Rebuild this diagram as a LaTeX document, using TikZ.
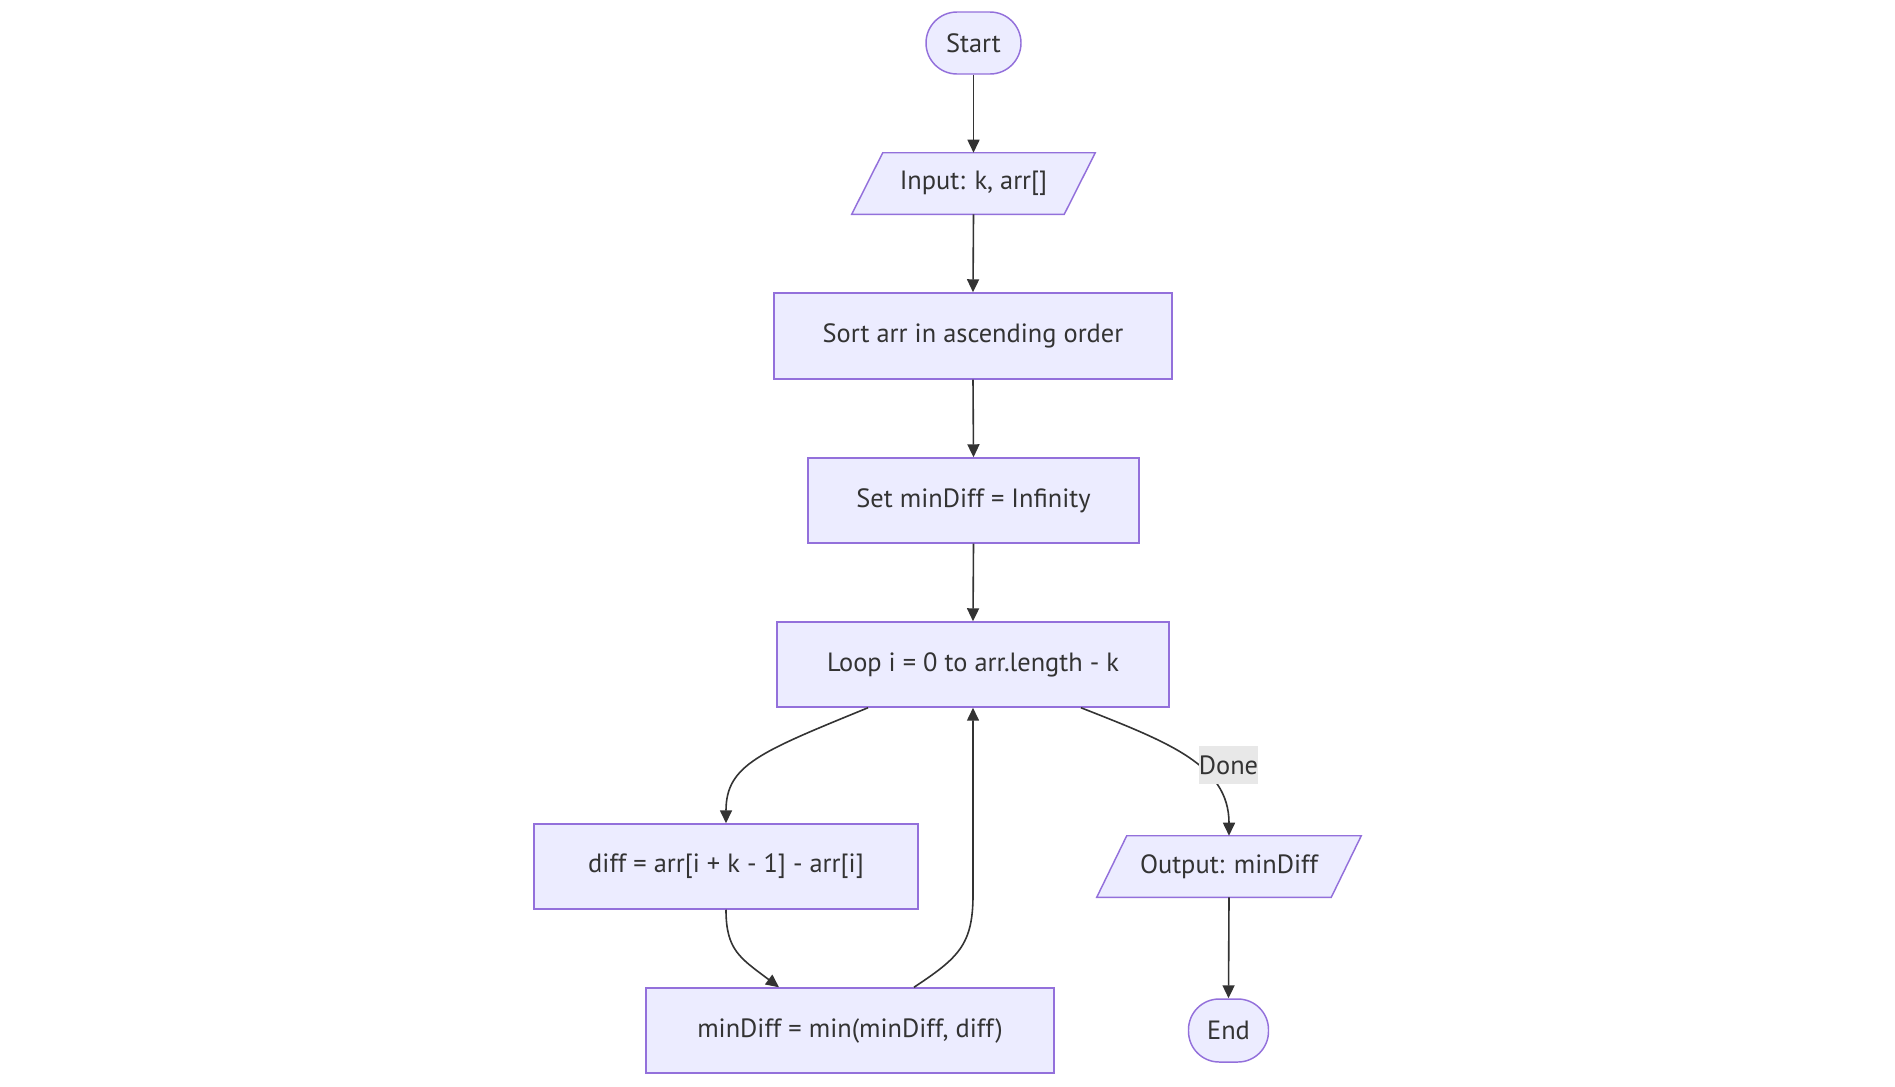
\documentclass[tikz,border=0pt]{standalone}
\usepackage{fontspec}
\setmainfont{PT Sans}
\usetikzlibrary{arrows.meta}
\definecolor{nodefill}{HTML}{ECECFF}
\definecolor{nodeline}{HTML}{9370DB}
\definecolor{ink}{HTML}{333333}
\definecolor{lblbg}{HTML}{E8E8E8}
\tikzset{
  box/.style={draw=nodeline, fill=nodefill, line width=1.1pt, text=ink, font=\fontsize{19.8pt}{23pt}\selectfont, inner sep=0pt, align=center},
  stadium/.style={box},
  ionode/.style={text=ink, font=\fontsize{19.8pt}{23pt}\selectfont, inner sep=0pt},
  iofill/.style={draw=nodeline, fill=nodefill, line width=1.1pt, line join=miter},
  arr/.style={draw=ink, line width=1.2pt, -{Triangle[length=9.75pt,width=9pt]}},
  lbl/.style={fill=lblbg, text=ink, font=\fontsize{19.8pt}{23pt}\selectfont, inner sep=0pt, minimum width=42.75pt, minimum height=28.5pt}
}
\begin{document}
\begin{tikzpicture}[x=0.75pt,y=-0.75pt]
\useasboundingbox (0,0) rectangle (1895,1086);
% nodes
\node[stadium, rounded corners=23.25pt, minimum width=71.25pt, minimum height=46.5pt] (start) at (973.5,43) {Start};
% input parallelogram
\node[ionode, minimum width=182.25pt, minimum height=45.75pt] (input) at (973.5,183.5) {};
\path[iofill] ([xshift=23.25pt]input.north west) -- (input.north east) -- ([xshift=-23.25pt]input.south east) -- (input.south west) -- cycle;
\node[ionode] (inputtxt) at (input.center) {Input: k, arr[]};
\node[box, minimum width=298.5pt, minimum height=64.5pt] (sort) at (973,336) {Sort arr in ascending order};
\node[box, minimum width=248.25pt, minimum height=63.75pt] (set) at (973.5,500.5) {Set minDiff = Infinity};
\node[box, minimum width=294pt, minimum height=63.75pt] (loop) at (973,664.5) {Loop i = 0 to arr.length - k};
\node[box, minimum width=288pt, minimum height=63.75pt] (diff) at (726,866.5) {diff = arr[i + k - 1] - arr[i]};
\node[box, minimum width=306pt, minimum height=63.75pt] (mind) at (850,1030.5) {minDiff = min(minDiff, diff)};
% output parallelogram
\node[ionode, minimum width=198pt, minimum height=45.75pt] (output) at (1229,866.5) {};
\path[iofill] ([xshift=22.5pt]output.north west) -- (output.north east) -- ([xshift=-22.5pt]output.south east) -- (output.south west) -- cycle;
\node[ionode] (outputtxt) at (output.center) {Output: minDiff};
\node[stadium, rounded corners=23pt, minimum width=60pt, minimum height=47.25pt] (end) at (1228.5,1030.5) {End};
% connectors
\coordinate (dmtip) at ([xshift=-53.25pt]mind.north);
\draw[arr] (start.south) -- (input.north);
\draw[arr] (input.south) -- (sort.north);
\draw[arr] (sort.south) -- (set.north);
\draw[arr] (set.south) -- (loop.north);
\draw[arr] ([xshift=-78.75pt]loop.south) .. controls (760,752) and (726,765) .. (diff.north);
\draw[arr] (diff.south) .. controls (726,950) and (740,958) .. (dmtip);
\draw[arr] ([xshift=48pt]mind.north) .. controls (958,958) and (973,945) .. (973,895) -- (loop.south);
\draw[arr] ([xshift=81pt]loop.south) .. controls (1168,742) and (1229,765) .. (output.north);
\node[lbl] (done) at (1228.5,765) {Done};
\draw[arr] (output.south) -- (end.north);
\end{tikzpicture}
\end{document}
